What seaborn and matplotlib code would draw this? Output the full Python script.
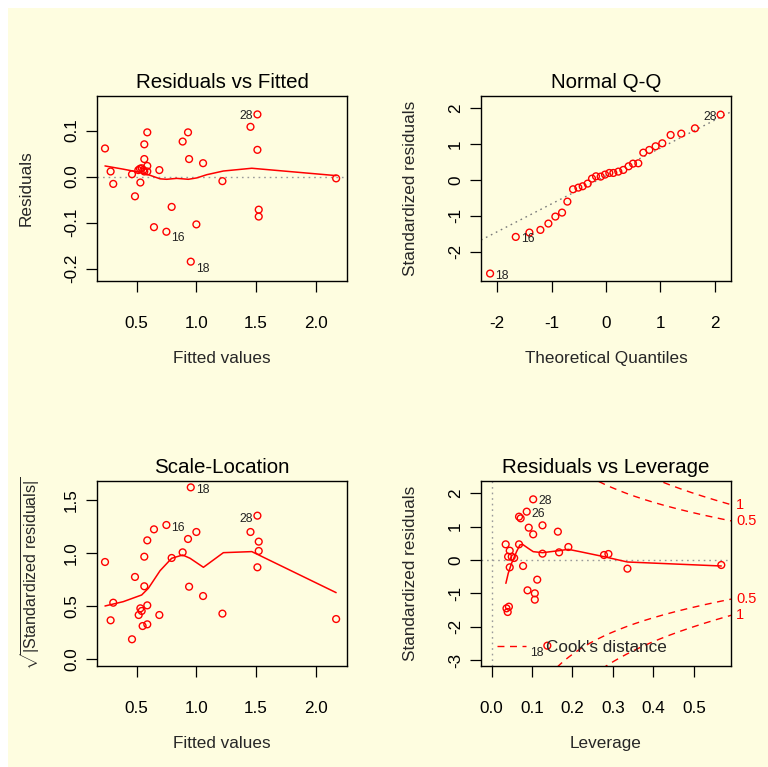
import numpy as np
import pandas as pd
import matplotlib
matplotlib.use("Agg")
import matplotlib.pyplot as plt
import seaborn as sns
from matplotlib.patches import Rectangle
from matplotlib.lines import Line2D
import matplotlib.transforms as mtrans

# ---------------- data ----------------
# Panel 1: Residuals vs Fitted
rf_fitted = [0.235, 0.282, 0.304, 0.461, 0.486, 0.531, 0.514, 0.528, 0.542, 0.556, 0.564,
             0.589, 0.589, 0.564, 0.564, 0.589, 0.690, 0.793, 0.645, 0.749, 0.885, 0.930,
             0.939, 1.000, 0.953, 1.056, 1.218, 1.453, 1.511, 1.511, 1.522, 1.522, 2.170]
rf_resid = [0.061, 0.011, -0.016, 0.005, -0.043, -0.013, 0.014, 0.017, 0.018, 0.014, 0.011,
            0.011, 0.023, 0.038, 0.070, 0.096, 0.014, -0.066, -0.110, -0.120, 0.076, 0.096,
            0.038, -0.104, -0.185, 0.029, -0.010, 0.108, 0.135, 0.058, -0.072, -0.087, -0.004]
rf_smooth_x = [0.235, 0.388, 0.528, 0.598, 0.696, 0.751, 0.835, 0.933, 1.003, 1.087, 1.226, 1.464, 2.170]
rf_smooth_y = [0.023, 0.016, 0.009, 0.004, -0.005, -0.006, -0.004, -0.006, -0.003, 0.004, 0.012, 0.018, 0.002]
rf_labels = [("28", 1.511, 0.135), ("16", 0.749, -0.120), ("18", 0.953, -0.185)]

# Panel 2: Normal Q-Q
qq_theo = [-2.131, -1.659, -1.408, -1.206, -1.059, -0.931, -0.808, -0.710, -0.606, -0.508,
           -0.429, -0.337, -0.257, -0.184, -0.098, -0.018, 0.061, 0.135, 0.227, 0.318,
           0.416, 0.496, 0.594, 0.686, 0.796, 0.912, 1.035, 1.188, 1.384, 1.635, 2.107]
qq_std = [-2.609, -1.588, -1.467, -1.393, -1.216, -1.021, -0.910, -0.604, -0.260, -0.214,
          -0.176, -0.102, 0.037, 0.102, 0.093, 0.149, 0.195, 0.195, 0.232, 0.279,
          0.381, 0.455, 0.464, 0.761, 0.836, 0.938, 1.021, 1.253, 1.291, 1.439, 1.820]
qq_line_intercept = 0.112
qq_line_slope = 0.778
qq_labels = [("18", -2.131, -2.609), ("16", -1.659, -1.588), ("28", 2.107, 1.820)]

# Panel 3: Scale-Location
sl_fitted = [0.235, 0.282, 0.304, 0.461, 0.486, 0.517, 0.531, 0.542, 0.550, 0.589, 0.589,
             0.564, 0.564, 0.589, 0.645, 0.690, 0.749, 0.793, 0.885, 0.930, 0.939, 1.000,
             0.953, 1.056, 1.218, 1.453, 1.511, 1.522, 1.522, 1.511, 2.170]
sl_sqrt = [0.915, 0.365, 0.531, 0.186, 0.774, 0.415, 0.478, 0.453, 0.311, 0.327, 0.506,
           0.686, 0.965, 1.119, 1.223, 0.415, 1.264, 0.953, 1.006, 1.132, 0.682, 1.198,
           1.619, 0.594, 0.428, 1.198, 1.352, 1.107, 1.019, 0.865, 0.377]
sl_smooth_x = [0.235, 0.388, 0.542, 0.598, 0.696, 0.793, 0.885, 0.947, 1.059, 1.226, 1.464, 2.170]
sl_smooth_y = [0.500, 0.541, 0.604, 0.667, 0.833, 0.950, 0.981, 0.950, 0.865, 1.003, 1.013, 0.626]
sl_labels = [("18", 0.953, 1.619), ("16", 0.749, 1.264), ("28", 1.511, 1.352)]

# Panel 4: Residuals vs Leverage
lv_lev = [0.103, 0.087, 0.068, 0.072, 0.126, 0.092, 0.103, 0.164, 0.035, 0.068, 0.045,
          0.041, 0.050, 0.056, 0.126, 0.167, 0.190, 0.278, 0.289, 0.336, 0.568, 0.045,
          0.078, 0.113, 0.089, 0.107, 0.107, 0.037, 0.043, 0.040, 0.138]
lv_std = [1.82, 1.45, 1.30, 1.25, 1.04, 0.97, 0.77, 0.85, 0.47, 0.47, 0.28,
          0.10, 0.10, 0.06, 0.19, 0.23, 0.39, 0.15, 0.18, -0.26, -0.15, -0.22,
          -0.18, -0.59, -0.91, -1.00, -1.19, -1.45, -1.40, -1.56, -2.57]
lv_smooth_x = [0.0355, 0.0413, 0.0495, 0.0619, 0.0701, 0.0767, 0.0908, 0.1031, 0.1262,
               0.1667, 0.1898, 0.2186, 0.278, 0.336, 0.568]
lv_smooth_y = [-0.70, -0.40, -0.10, 0.25, 0.45, 0.47, 0.35, 0.25, 0.22, 0.28, 0.32, 0.25,
               0.10, -0.06, -0.18]
lv_labels = [("28", 0.103, 1.82), ("26", 0.087, 1.45), ("18", 0.138, -2.57)]
cook_levels = [0.5, 1.0]
n_params = 4

# ---------------- style ----------------
BG = "#FEFDE0"
RED = "#FF0000"
sns.set_style("ticks")
plt.rcParams["font.family"] = ["Liberation Sans", "DejaVu Sans"]
plt.rcParams["mathtext.fontset"] = "custom"
plt.rcParams["mathtext.rm"] = "Liberation Sans"
plt.rcParams["mathtext.it"] = "Liberation Sans:italic"
FS = 12.3
TFS = 14.8
LFS = 8.8

fig = plt.figure(figsize=(7.68, 7.67), dpi=100)
fig.patch.set_facecolor("white")
fig.add_artist(Rectangle((8 / 768, 0), 1, 1 - 8 / 767, transform=fig.transFigure,
                         facecolor=BG, edgecolor="none", zorder=-10))

W, H = 768, 767

def make_ax(left, top, right, bottom):
    return fig.add_axes([left / W, 1 - bottom / H, (right - left) / W, (bottom - top) / H])

ax1 = make_ax(97, 96, 347, 281)
ax2 = make_ax(481, 96, 731, 281)
ax3 = make_ax(97, 481, 347, 666)
ax4 = make_ax(481, 481, 731, 666)

dotted = (0, (1.2, 2.8))

def style_ax(ax, title, xlabel, ylabel, xticks, xtl, yticks, ytl, xlim, ylim, yfs=FS, ypad=22):
    ax.set_facecolor(BG)
    ax.set_xlim(*xlim)
    ax.set_ylim(*ylim)
    ax.set_xticks(xticks)
    ax.set_xticklabels(xtl)
    ax.set_yticks(yticks)
    ax.set_yticklabels(ytl)
    for sp in ax.spines.values():
        sp.set_visible(True)
        sp.set_color("black")
        sp.set_linewidth(1.0)
    ax.tick_params(axis="both", direction="out", length=7.9, width=0.9, color="black",
                   labelsize=FS, labelcolor="black")
    ax.tick_params(axis="x", pad=17.5)
    ax.tick_params(axis="y", pad=5)
    for lab in ax.get_yticklabels():
        lab.set_rotation(90)
        lab.set_va("center")
        lab.set_ha("right")
    ax.set_title(title, fontsize=TFS, pad=6, color="black")
    ax.set_xlabel(xlabel, fontsize=FS, labelpad=14.5)
    ax.set_ylabel(ylabel, fontsize=yfs, labelpad=ypad)

def pts(ax, x, y):
    sns.scatterplot(x=x, y=y, ax=ax, s=24, facecolor="none", edgecolor=RED,
                    linewidth=1.0, zorder=3, legend=False)

def smooth(ax, x, y):
    sns.lineplot(x=x, y=y, ax=ax, color=RED, lw=1.1, estimator=None, sort=False,
                 zorder=4, legend=False)

def label(ax, txt, x, y, side, dy=-2):
    dx = 5 if side == "right" else -4
    ax.annotate(txt, (x, y), xytext=(dx * 0.72, dy * 0.72), textcoords="offset points",
                ha="left" if side == "right" else "right", va="center",
                fontsize=LFS, color="#222222", zorder=5, annotation_clip=False)

# Panel 1
ax1.axhline(0, color="#9a9a9a", lw=1.0, ls=dotted, zorder=1)
pts(ax1, rf_fitted, rf_resid)
smooth(ax1, rf_smooth_x, rf_smooth_y)
style_ax(ax1, "Residuals vs Fitted", "Fitted values", "Residuals",
         [0.5, 1.0, 1.5, 2.0], ["0.5", "1.0", "1.5", "2.0"],
         [-0.2, -0.1, 0.0, 0.1], ["-0.2", "-0.1", "0.0", "0.1"],
         (0.168, 2.261), (-0.227, 0.175))
for (t, x, y), side, dy in zip(rf_labels, ["left", "right", "right"], [-2, -6, -7]):
    label(ax1, t, x, y, side, dy)

# Panel 2
ax2.axline((0, qq_line_intercept), slope=qq_line_slope, color="#7a7a7a", lw=1.0,
           ls=dotted, zorder=1)
pts(ax2, qq_theo, qq_std)
style_ax(ax2, "Normal Q-Q", "Theoretical Quantiles", "Standardized residuals",
         [-2, -1, 0, 1, 2], ["-2", "-1", "0", "1", "2"],
         [-2, -1, 0, 1, 2], ["-2", "-1", "0", "1", "2"],
         (-2.298, 2.298), (-2.817, 2.34))
for (t, x, y), side in zip(qq_labels, ["right", "right", "left"]):
    label(ax2, t, x, y, side, -2)

# Panel 3
pts(ax3, sl_fitted, sl_sqrt)
smooth(ax3, sl_smooth_x, sl_smooth_y)
style_ax(ax3, "Scale-Location", "Fitted values",
         r"$\sqrt{|\mathrm{Standardized\ residuals}|}$",
         [0.5, 1.0, 1.5, 2.0], ["0.5", "1.0", "1.5", "2.0"],
         [0.0, 0.5, 1.0, 1.5], ["0.0", "0.5", "1.0", "1.5"],
         (0.168, 2.261), (-0.066, 1.679), yfs=11.6, ypad=16)
for (t, x, y), side in zip(sl_labels, ["right", "right", "left"]):
    label(ax3, t, x, y, side, -3)

# Panel 4
xl4 = (-0.026, 0.592)
yl4 = (-3.18, 2.37)
ax4.axhline(0, color="#9a9a9a", lw=1.0, ls=dotted, zorder=1)
ax4.axvline(0, color="#9a9a9a", lw=1.0, ls=dotted, zorder=1)
hh = np.linspace(0.01, 1.0, 300)
for lev in cook_levels:
    cy = np.sqrt(lev * n_params * (1 - hh) / hh)
    for sgn in (1, -1):
        sns.lineplot(x=hh, y=sgn * cy, ax=ax4, color=RED, lw=1.0, ls=(0, (5, 4)),
                     estimator=None, sort=False, zorder=2, legend=False)
pts(ax4, lv_lev, lv_std)
smooth(ax4, lv_smooth_x, lv_smooth_y)
style_ax(ax4, "Residuals vs Leverage", "Leverage", "Standardized residuals",
         [0.0, 0.1, 0.2, 0.3, 0.4, 0.5], ["0.0", "0.1", "0.2", "0.3", "0.4", "0.5"],
         [-3, -2, -1, 0, 1, 2], ["-3", "-2", "-1", "0", "1", "2"], xl4, yl4)
for (t, x, y), side, dy in zip(lv_labels, ["right", "right", "left"], [-2, -2, -7]):
    label(ax4, t, x, y, side, dy)
# Cook's distance level labels on the right margin
trans = mtrans.blended_transform_factory(ax4.transAxes, ax4.transData)
hx = xl4[1]
for lev in cook_levels:
    yv = np.sqrt(lev * n_params * (1 - hx) / hx)
    for sgn in (1, -1):
        ax4.text(1.02, sgn * yv, f"{lev:g}", transform=trans, color=RED, fontsize=10.5,
                 ha="left", va="center", clip_on=False)
leg_handle = Line2D([0], [0], color=RED, lw=1.0, ls=(0, (5, 4)))
ax4.legend([leg_handle], ["Cook's distance"], loc="lower left", frameon=False,
           fontsize=FS, handlelength=1.7, handletextpad=1.2, borderpad=0,
           borderaxespad=0, bbox_to_anchor=(0.062, 0.057))

fig.savefig("out.png", dpi=100)
